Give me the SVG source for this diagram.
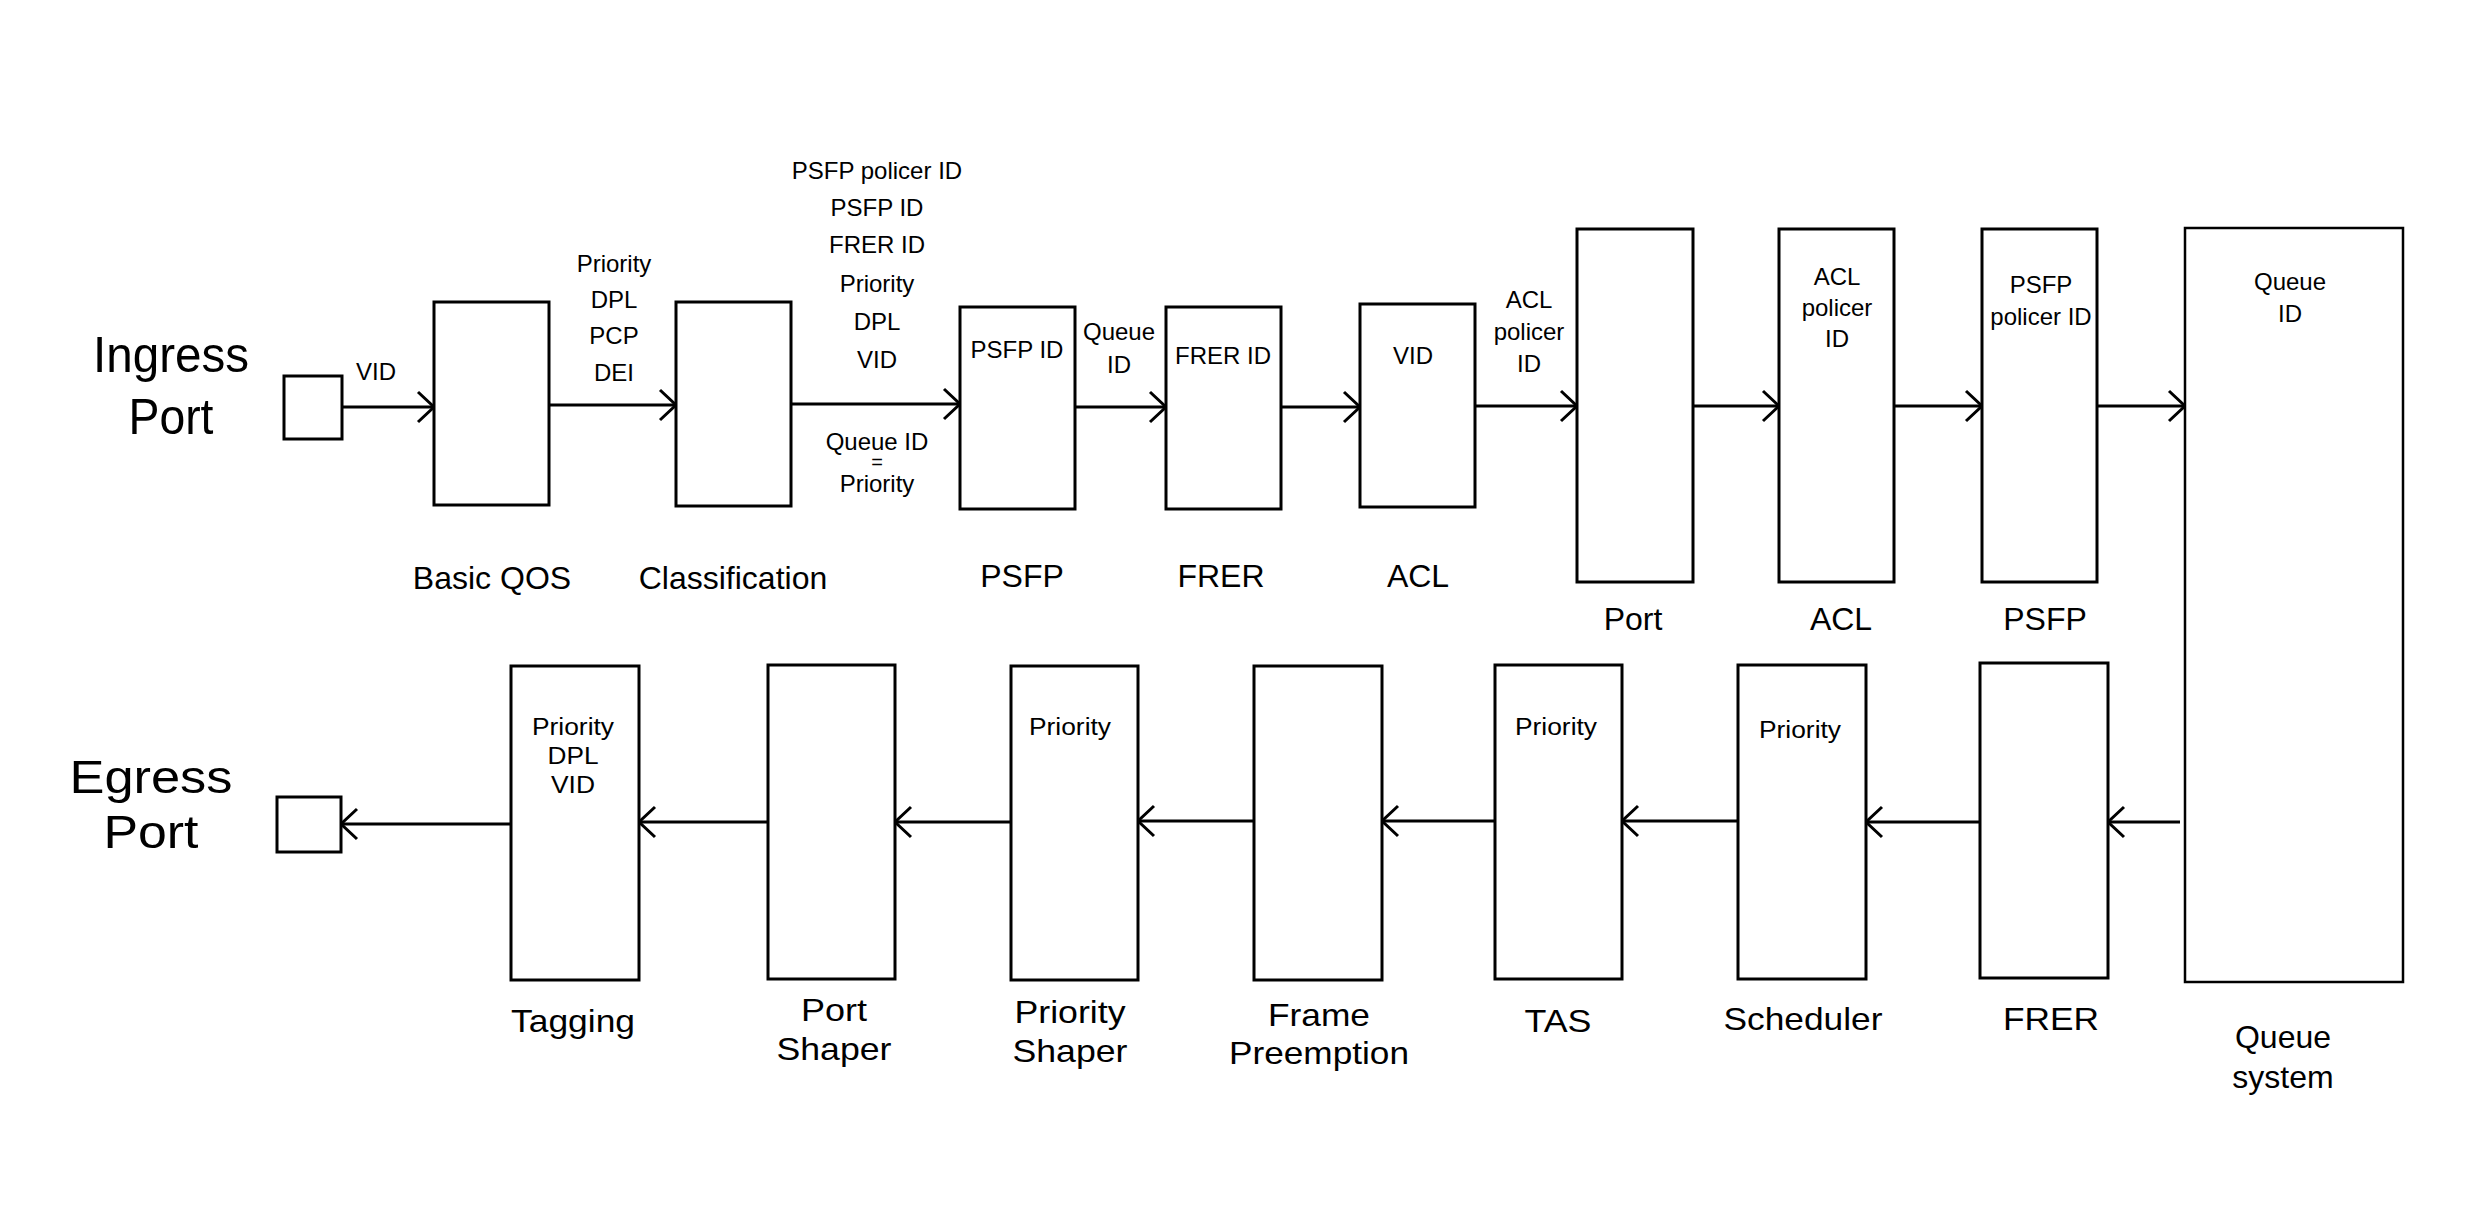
<svg xmlns="http://www.w3.org/2000/svg" width="2490" height="1232" viewBox="0 0 2490 1232">
<style>
  text { font-family: "Liberation Sans", Arial, sans-serif; fill: #000; text-anchor: middle; }
  .big { font-size: 50px; }
  .lbl { font-size: 32px; }
  .sm { font-size: 24px; }
  .bsm { font-size: 23px; }
  .eq { font-size: 20px; }
  .box { fill: #fff; stroke: #000; stroke-width: 3; }
  .qbox { fill: #fff; stroke: #000; stroke-width: 2.5; }
  .conn { stroke: #000; stroke-width: 3; fill: none; marker-end: url(#arr); }
</style>
<defs>
  <marker id="arr" markerUnits="userSpaceOnUse" viewBox="-3 -3 24 36" markerWidth="24" markerHeight="36" refX="16" refY="15" orient="auto" overflow="visible">
    <path d="M0,0 L16,15 L0,30" fill="none" stroke="#000" stroke-width="3"/>
  </marker>
</defs>
<rect width="2490" height="1232" fill="#fff"/>

<g id="connectors">
  <line class="conn" x1="342" y1="407" x2="434" y2="407"/>
  <line class="conn" x1="549" y1="405" x2="676" y2="405"/>
  <line class="conn" x1="791" y1="404" x2="960" y2="404"/>
  <line class="conn" x1="1075" y1="407" x2="1166" y2="407"/>
  <line class="conn" x1="1281" y1="407" x2="1360" y2="407"/>
  <line class="conn" x1="1475" y1="406" x2="1577" y2="406"/>
  <line class="conn" x1="1693" y1="406" x2="1779" y2="406"/>
  <line class="conn" x1="1894" y1="406" x2="1982" y2="406"/>
  <line class="conn" x1="2097" y1="406" x2="2185" y2="406"/>
  <line class="conn" x1="2180" y1="822" x2="2108" y2="822"/>
  <line class="conn" x1="1980" y1="822" x2="1866" y2="822"/>
  <line class="conn" x1="1738" y1="821" x2="1622" y2="821"/>
  <line class="conn" x1="1495" y1="821" x2="1382" y2="821"/>
  <line class="conn" x1="1254" y1="821" x2="1138" y2="821"/>
  <line class="conn" x1="1011" y1="822" x2="895" y2="822"/>
  <line class="conn" x1="768" y1="822" x2="639" y2="822"/>
  <line class="conn" x1="511" y1="824" x2="341" y2="824"/>
  <text class="sm" x="376" y="380">VID</text>
  <text class="sm" x="614" y="272">Priority</text>
  <text class="sm" x="614" y="308">DPL</text>
  <text class="sm" x="614" y="344">PCP</text>
  <text class="sm" x="614" y="381">DEI</text>
  <text class="sm" x="877" y="179">PSFP policer ID</text>
  <text class="sm" x="877" y="216">PSFP ID</text>
  <text class="sm" x="877" y="253">FRER ID</text>
  <text class="sm" x="877" y="292">Priority</text>
  <text class="sm" x="877" y="330">DPL</text>
  <text class="sm" x="877" y="368">VID</text>
  <text class="sm" x="877" y="450">Queue ID</text>
  <text class="eq" x="877" y="469">=</text>
  <text class="sm" x="877" y="492">Priority</text>
  <text class="sm" x="1119" y="340">Queue</text>
  <text class="sm" x="1119" y="373">ID</text>
  <text class="sm" x="1529" y="308">ACL</text>
  <text class="sm" x="1529" y="340">policer</text>
  <text class="sm" x="1529" y="372">ID</text>
</g>

<g id="ingress-port">
  <text class="big" x="171" y="372" textLength="156" lengthAdjust="spacingAndGlyphs">Ingress</text>
  <text class="big" x="171" y="434" textLength="85" lengthAdjust="spacingAndGlyphs">Port</text>
  <rect class="box" x="284" y="376" width="58" height="63"/>
</g>
<g id="basic-qos">
  <rect class="box" x="434" y="302" width="115" height="203"/>
  <text class="lbl" x="492" y="589">Basic QOS</text>
</g>
<g id="classification">
  <rect class="box" x="676" y="302" width="115" height="204"/>
  <text class="lbl" x="733" y="589">Classification</text>
</g>
<g id="psfp-in">
  <rect class="box" x="960" y="307" width="115" height="202"/>
  <text class="sm" x="1017" y="358">PSFP ID</text>
  <text class="lbl" x="1022" y="587">PSFP</text>
</g>
<g id="frer-in">
  <rect class="box" x="1166" y="307" width="115" height="202"/>
  <text class="sm" x="1223" y="364">FRER ID</text>
  <text class="lbl" x="1221" y="587">FRER</text>
</g>
<g id="acl-in">
  <rect class="box" x="1360" y="304" width="115" height="203"/>
  <text class="sm" x="1413" y="364">VID</text>
  <text class="lbl" x="1418" y="587">ACL</text>
</g>
<g id="port">
  <rect class="box" x="1577" y="229" width="116" height="353"/>
  <text class="lbl" x="1633" y="630">Port</text>
</g>
<g id="acl-port">
  <rect class="box" x="1779" y="229" width="115" height="353"/>
  <text class="sm" x="1837" y="285">ACL</text>
  <text class="sm" x="1837" y="316">policer</text>
  <text class="sm" x="1837" y="347">ID</text>
  <text class="lbl" x="1841" y="630">ACL</text>
</g>
<g id="psfp-port">
  <rect class="box" x="1982" y="229" width="115" height="353"/>
  <text class="sm" x="2041" y="293">PSFP</text>
  <text class="sm" x="2041" y="325">policer ID</text>
  <text class="lbl" x="2045" y="630">PSFP</text>
</g>
<g id="queue-system">
  <rect class="qbox" x="2185" y="228" width="218" height="754"/>
  <text class="sm" x="2290" y="290">Queue</text>
  <text class="sm" x="2290" y="322">ID</text>
  <text class="lbl" x="2283" y="1048">Queue</text>
  <text class="lbl" x="2283" y="1088">system</text>
</g>
<g id="frer-out">
  <rect class="box" x="1980" y="663" width="128" height="315"/>
  <text class="lbl" x="2051" y="1030" textLength="96" lengthAdjust="spacingAndGlyphs">FRER</text>
</g>
<g id="scheduler">
  <rect class="box" x="1738" y="665" width="128" height="314"/>
  <text class="bsm" x="1800" y="738" textLength="82" lengthAdjust="spacingAndGlyphs">Priority</text>
  <text class="lbl" x="1803" y="1030" textLength="159" lengthAdjust="spacingAndGlyphs">Scheduler</text>
</g>
<g id="tas">
  <rect class="box" x="1495" y="665" width="127" height="314"/>
  <text class="bsm" x="1556" y="735" textLength="82" lengthAdjust="spacingAndGlyphs">Priority</text>
  <text class="lbl" x="1558" y="1032" textLength="67" lengthAdjust="spacingAndGlyphs">TAS</text>
</g>
<g id="frame-preemption">
  <rect class="box" x="1254" y="666" width="128" height="314"/>
  <text class="lbl" x="1319" y="1026" textLength="102" lengthAdjust="spacingAndGlyphs">Frame</text>
  <text class="lbl" x="1319" y="1064" textLength="180" lengthAdjust="spacingAndGlyphs">Preemption</text>
</g>
<g id="priority-shaper">
  <rect class="box" x="1011" y="666" width="127" height="314"/>
  <text class="bsm" x="1070" y="735" textLength="82" lengthAdjust="spacingAndGlyphs">Priority</text>
  <text class="lbl" x="1070" y="1023" textLength="111" lengthAdjust="spacingAndGlyphs">Priority</text>
  <text class="lbl" x="1070" y="1062" textLength="115" lengthAdjust="spacingAndGlyphs">Shaper</text>
</g>
<g id="port-shaper">
  <rect class="box" x="768" y="665" width="127" height="314"/>
  <text class="lbl" x="834" y="1021" textLength="66" lengthAdjust="spacingAndGlyphs">Port</text>
  <text class="lbl" x="834" y="1060" textLength="115" lengthAdjust="spacingAndGlyphs">Shaper</text>
</g>
<g id="tagging">
  <rect class="box" x="511" y="666" width="128" height="314"/>
  <text class="bsm" x="573" y="735" textLength="82" lengthAdjust="spacingAndGlyphs">Priority</text>
  <text class="bsm" x="573" y="764" textLength="51" lengthAdjust="spacingAndGlyphs">DPL</text>
  <text class="bsm" x="573" y="793" textLength="44" lengthAdjust="spacingAndGlyphs">VID</text>
  <text class="lbl" x="573" y="1032" textLength="124" lengthAdjust="spacingAndGlyphs">Tagging</text>
</g>
<g id="egress-port">
  <text class="big" x="151" y="793" font-size="46" style="font-size:46px" textLength="163" lengthAdjust="spacingAndGlyphs">Egress</text>
  <text class="big" x="151" y="848" style="font-size:46px" textLength="95" lengthAdjust="spacingAndGlyphs">Port</text>
  <rect class="box" x="277" y="797" width="64" height="55"/>
</g>
</svg>
